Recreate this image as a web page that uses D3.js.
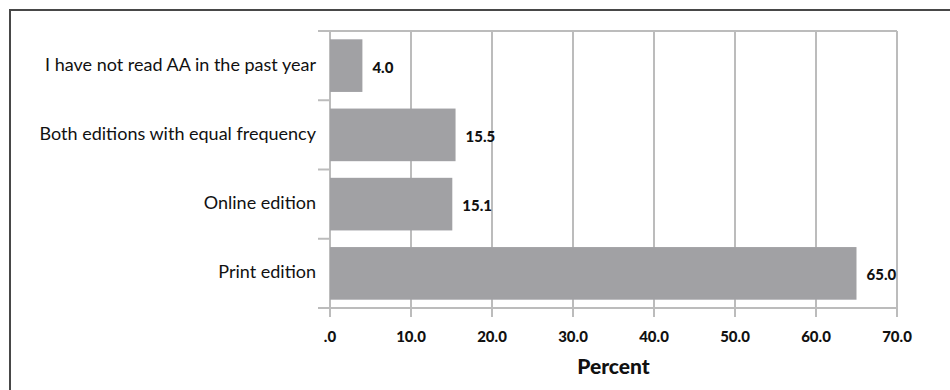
<!DOCTYPE html>
<html>
<head>
<meta charset="utf-8">
<script src="https://cdn.jsdelivr.net/npm/d3@7"></script>
<style>
  body { margin: 0; background: #fff; }
  text { font-family: Lato, "Open Sans", sans-serif; }
</style>
</head>
<body>
<div id="container"></div>
<script>
const categories = [
  'I have not read AA in the past year',
  'Both editions with equal frequency',
  'Online edition',
  'Print edition'
];
const values = [4.0, 15.5, 15.1, 65.0];
const xTicks = [0, 10, 20, 30, 40, 50, 60, 70];

const width = 950, height = 390;
const margin = { top: 31, right: 52, bottom: 82, left: 330 };
const plotW = width - margin.left - margin.right;
const plotH = height - margin.top - margin.bottom;

const svg = d3.select('#container')
  .append('svg')
  .attr('width', width)
  .attr('height', height);

// outer frame (only top + left visible)
svg.append('path')
  .attr('d', `M10,${height} L10,10 L${width},10`)
  .attr('fill', 'none')
  .attr('stroke', '#474747')
  .attr('stroke-width', 2);

const g = svg.append('g')
  .attr('transform', `translate(${margin.left},${margin.top})`);

const x = d3.scaleLinear().domain([0, 70]).range([0, 567]);
const y = d3.scaleBand().domain(categories).range([0, plotH]).paddingInner(0.24).paddingOuter(0.12);

const gridColor = '#bcbcbc';

// vertical gridlines + ticks
g.append('g')
  .selectAll('line')
  .data(xTicks)
  .join('line')
  .attr('x1', d => x(d))
  .attr('x2', d => x(d))
  .attr('y1', 0)
  .attr('y2', plotH + 9)
  .attr('stroke', gridColor)
  .attr('stroke-width', 2);

// top and bottom lines
g.append('line')
  .attr('x1', -12).attr('x2', x(70))
  .attr('y1', 0).attr('y2', 0)
  .attr('stroke', gridColor).attr('stroke-width', 2);
g.append('line')
  .attr('x1', -12).attr('x2', x(70))
  .attr('y1', plotH).attr('y2', plotH)
  .attr('stroke', gridColor).attr('stroke-width', 2);

// category separators on the left
const step = plotH / categories.length;
g.append('g')
  .selectAll('line')
  .data(d3.range(1, categories.length))
  .join('line')
  .attr('x1', -12).attr('x2', 0)
  .attr('y1', d => d * step).attr('y2', d => d * step)
  .attr('stroke', gridColor).attr('stroke-width', 2);

// bars
g.append('g')
  .selectAll('rect')
  .data(values)
  .join('rect')
  .attr('x', 0)
  .attr('y', (d, i) => y(categories[i]))
  .attr('width', d => x(d))
  .attr('height', y.bandwidth())
  .attr('fill', '#a1a1a4');

// value labels
g.append('g')
  .selectAll('text')
  .data(values)
  .join('text')
  .attr('x', d => x(d) + 10)
  .attr('y', (d, i) => y(categories[i]) + y.bandwidth() / 2 + 7)
  .attr('font-size', 15)
  .attr('font-weight', 900)
  .attr('fill', '#111')
  .text(d => d.toFixed(1));

// category labels
g.append('g')
  .selectAll('text')
  .data(categories)
  .join('text')
  .attr('x', -14)
  .attr('y', d => y(d) + y.bandwidth() / 2 + 5)
  .attr('text-anchor', 'end')
  .attr('font-size', 18)
  .attr('fill', '#111')
  .text(d => d);

// x tick labels
g.append('g')
  .selectAll('text')
  .data(xTicks)
  .join('text')
  .attr('x', d => x(d))
  .attr('y', plotH + 34)
  .attr('text-anchor', 'middle')
  .attr('font-size', 15)
  .attr('font-weight', 900)
  .attr('fill', '#111')
  .text(d => d === 0 ? '.0' : d.toFixed(1));

// axis title
g.append('text')
  .attr('x', x(35))
  .attr('y', plotH + 66)
  .attr('text-anchor', 'middle')
  .attr('font-size', 21)
  .attr('font-weight', 900)
  .attr('fill', '#111')
  .text('Percent');
</script>
</body>
</html>
